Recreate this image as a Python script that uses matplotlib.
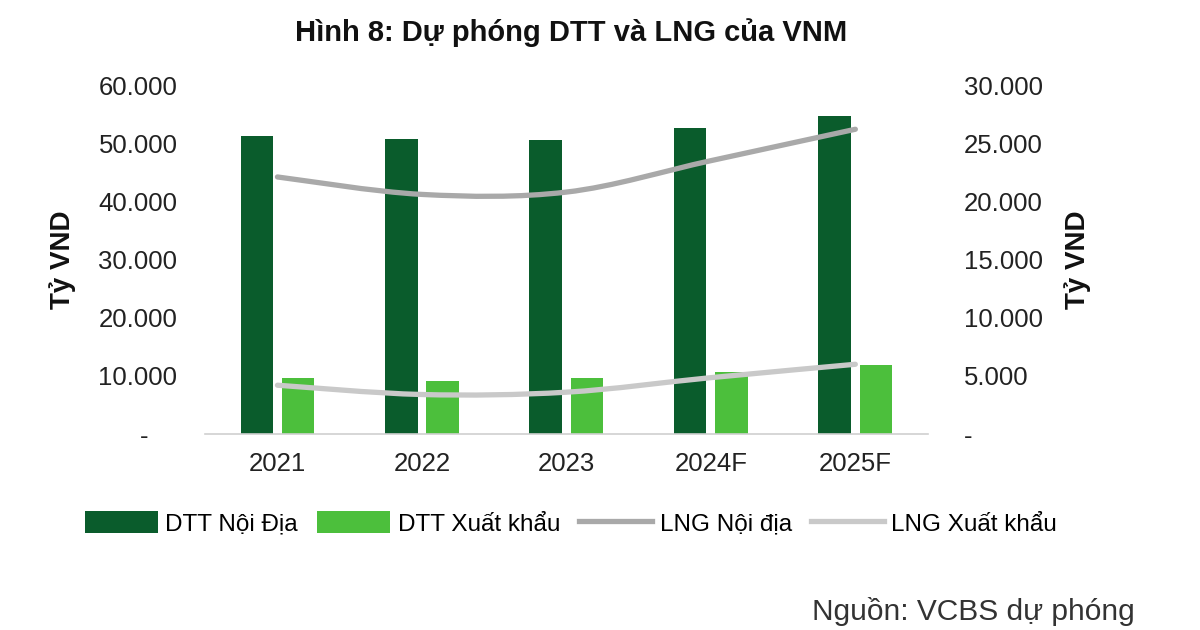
import matplotlib
matplotlib.use("Agg")
import matplotlib.pyplot as plt
from matplotlib.path import Path
from matplotlib.patches import PathPatch, Patch
from matplotlib.lines import Line2D
from matplotlib.ticker import FuncFormatter, FixedLocator
import numpy as np

plt.rcParams['font.family'] = ['Liberation Sans', 'DejaVu Sans']

title = "Hình 8: Dự phóng DTT và LNG của VNM"
categories = ["2021", "2022", "2023", "2024F", "2025F"]
dtt_noi_dia = [51200, 50800, 50600, 52600, 54700]
dtt_xuat_khau = [9700, 9200, 9700, 10700, 11800]
lng_noi_dia = [22100, 20600, 20800, 23500, 26200]
lng_xuat_khau = [4200, 3400, 3600, 4850, 6000]
series_names = ["DTT Nội Địa", "DTT Xuất khẩu", "LNG Nội địa", "LNG Xuất khẩu"]
y_label = "Tỷ VND"
source = "Nguồn: VCBS dự phóng"

c_dark = "#0a5c2c"
c_light = "#4cbf3c"
c_lng1 = "#a9a9a9"
c_lng2 = "#c9c9c9"

fig = plt.figure(figsize=(12, 6.3), dpi=100)
ax = fig.add_axes([0.171, 0.311, 0.602, 0.554])
ax2 = ax.twinx()

x = np.arange(len(categories))
w = 0.225
ax.bar(x - 0.143, dtt_noi_dia, width=w, color=c_dark, zorder=2)
ax.bar(x + 0.143, dtt_xuat_khau, width=w, color=c_light, zorder=2)


def smooth_path(xs, ys):
    xs = list(xs); ys = list(ys)
    n = len(xs)
    px = [xs[0]] + xs + [xs[-1]]
    py = [ys[0]] + ys + [ys[-1]]
    verts = [(xs[0], ys[0])]
    codes = [Path.MOVETO]
    for i in range(1, n):
        a = i
        c1 = (px[a] + (px[a + 1] - px[a - 1]) / 6.0, py[a] + (py[a + 1] - py[a - 1]) / 6.0)
        c2 = (px[a + 1] - (px[a + 2] - px[a]) / 6.0, py[a + 1] - (py[a + 2] - py[a]) / 6.0)
        verts += [c1, c2, (px[a + 1], py[a + 1])]
        codes += [Path.CURVE4] * 3
    return Path(verts, codes)


for ys, col in [(lng_noi_dia, c_lng1), (lng_xuat_khau, c_lng2)]:
    p = smooth_path(x.astype(float), ys)
    ax2.add_patch(PathPatch(p, facecolor='none', edgecolor=col, lw=3.8,
                            capstyle='round', zorder=3))

ax.set_xlim(-0.5, len(categories) - 0.5)
ax.set_ylim(0, 60000)
ax2.set_ylim(0, 30000)
ax.yaxis.set_major_locator(FixedLocator(np.arange(0, 60001, 10000)))
ax2.yaxis.set_major_locator(FixedLocator(np.arange(0, 30001, 5000)))


def fmt_left(v, pos):
    if v == 0:
        return "-    "
    return f"{int(v):,}".replace(",", ".")


def fmt_right(v, pos):
    if v == 0:
        return "-"
    return f"{int(v):,}".replace(",", ".")


ax.yaxis.set_major_formatter(FuncFormatter(fmt_left))
ax2.yaxis.set_major_formatter(FuncFormatter(fmt_right))
ax.set_xticks(x)
ax.set_xticklabels(categories)

for a in (ax, ax2):
    for s in a.spines.values():
        s.set_visible(False)
ax.spines['bottom'].set_visible(True)
ax.spines['bottom'].set_color('#d0d0d0')
ax.spines['bottom'].set_linewidth(1.2)

ax.tick_params(axis='y', length=0, pad=20, labelsize=18.5, labelcolor='#222222')
ax2.tick_params(axis='y', length=0, pad=26, labelsize=18.5, labelcolor='#222222')
ax.tick_params(axis='x', length=0, pad=13, labelsize=18.5, labelcolor='#222222')

fig.text(0.052, 0.588, y_label, rotation=90, ha='center', va='center',
         fontsize=20, fontweight='bold', color='#111111')
fig.text(0.898, 0.588, y_label, rotation=90, ha='center', va='center',
         fontsize=20, fontweight='bold', color='#111111')

fig.text(0.476, 0.948, title, ha='center', va='center', fontsize=21,
         fontweight='bold', color='#111111')

handles = [Patch(facecolor=c_dark), Patch(facecolor=c_light),
           Line2D([], [], color=c_lng1, lw=3.8), Line2D([], [], color=c_lng2, lw=3.8)]
fig.legend(handles, series_names, loc='center', bbox_to_anchor=(0.476, 0.169),
           ncol=4, frameon=False, fontsize=17.5, handlelength=3.0, handleheight=1.0,
           handletextpad=0.3, columnspacing=0.8)

fig.text(0.946, 0.03, source, ha='right', va='center', fontsize=21.5, color='#333333')

fig.savefig("out.png", dpi=100, facecolor='white')
